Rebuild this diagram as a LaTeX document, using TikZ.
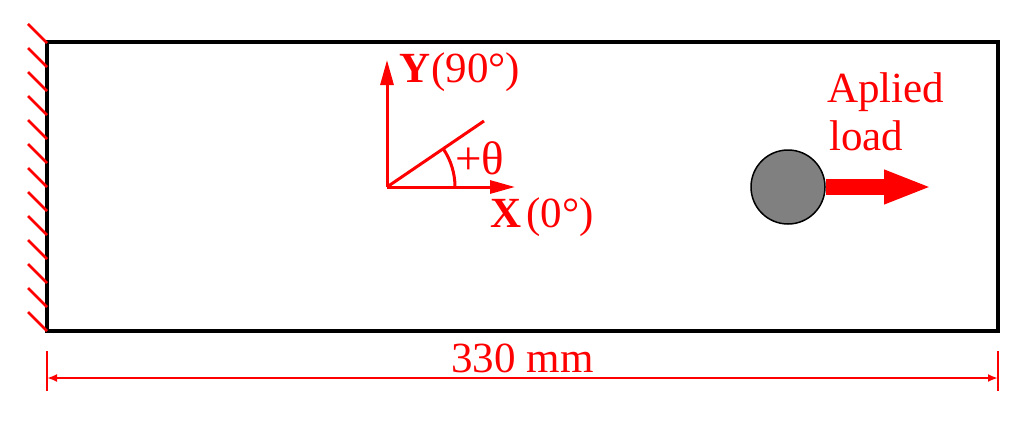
\documentclass[tikz,border=0pt]{standalone}
\usepackage{fontspec}
\setmainfont{Liberation Serif}
\usetikzlibrary{arrows.meta,calc}
\definecolor{loadgray}{HTML}{808080}
\tikzset{
  lbl/.style={text=red, font=\fontsize{43}{50}\selectfont, inner sep=0pt},
  hatch/.style={red, line width=2.6pt},
  axis/.style={red, line width=3pt, -{Triangle[length=25pt,width=13pt]}},
  dimline/.style={red, line width=2pt, {Latex[length=10pt,width=8pt]}-{Latex[length=10pt,width=8pt]}},
  tick/.style={red, line width=1.3pt},
}
\begin{document}
\begin{tikzpicture}[x=1pt,y=-1pt]
\useasboundingbox (0,0) rectangle (1024,420);
% plate
\draw[line width=3.5pt, line join=miter] (47,42) rectangle (998,331);
% hatching
\foreach \k in {0,...,12}{
  \draw[hatch] (47,{43+24*\k}) -- (28,{24+24*\k});
}
% axes
\coordinate (O) at (387,187);
\coordinate (Ytip) at (387,60);
\coordinate (Xtip) at (515,187);
\coordinate (Dtip) at (484,121);
\draw[axis] (O) -- (Ytip);
\draw[axis] (O) -- (Xtip);
\draw[red, line width=3pt] (O) -- (Dtip);
\draw[red, line width=3pt] ($(O)+(68,0)$) arc[start angle=0, end angle=-34, radius=68];
\node[lbl, anchor=base west] (ylab) at (399,82) {\textbf{Y}\kern1pt(90°)};
\node[lbl, anchor=base west] (xlab) at (490,227) {\textbf{X}\kern5pt(0°)};
\node[lbl, anchor=base west, font=\fontsize{47}{54}\selectfont] (th) at (455,174) {+θ};
% load
\node[circle, draw=black, line width=1.5pt, fill=loadgray, minimum size=74pt, inner sep=0pt] (load) at (788,187) {};
\coordinate (ltip) at (932,187);
\draw[red, line width=16pt, -{Triangle[length=48pt,width=31pt]}] (load.east) -- (ltip);
\node[lbl, anchor=base west] (ltext) at (827,102) {Aplied};
\node[lbl, anchor=base west] (ltext2) at (829,150) {load};
% dimension
\coordinate (dl) at (47,378);
\coordinate (dr) at (998,378);
\draw[tick] (47,351) -- (47,391);
\draw[tick] (998,351) -- (998,391);
\draw[dimline] (dl) -- (dr);
\node[lbl, anchor=base] (dim) at (522.5,372) {330 mm};
\end{tikzpicture}
\end{document}
